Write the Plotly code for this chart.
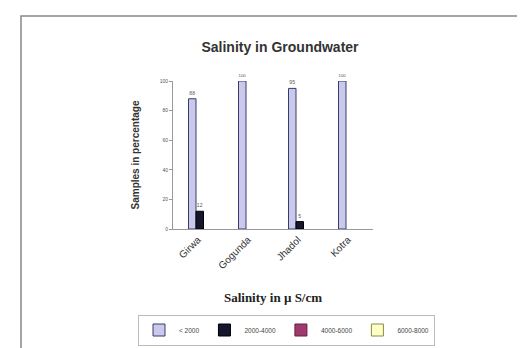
import plotly.graph_objects as go

categories = ["Girwa", "Gogunda", "Jhadol", "Kotra"]
series_names = ["< 2000", "2000-4000", "4000-6000", "6000-8000"]
s_lt2000 = [88, 100, 95, 100]
s_2000_4000 = [12, None, 5, None]
s_4000_6000 = [None, None, None, None]
s_6000_8000 = [None, None, None, None]
y_ticks = [0, 20, 40, 60, 80, 100]

fills = ["#c9c9ec", "#15152e", "#a03a6e", "#ffffc8"]
lines = ["#3a3a6e", "#000000", "#602040", "#8a8a40"]
offsets = [-0.19, -0.04, 0.11, 0.26]
all_series = [s_lt2000, s_2000_4000, s_4000_6000, s_6000_8000]

fig = go.Figure()
for name, vals, fc, lc, off in zip(series_names, all_series, fills, lines, offsets):
    fig.add_trace(go.Bar(
        x=categories, y=vals, name=name,
        marker=dict(color=fc, line=dict(color=lc, width=1)),
        width=0.15, offset=off,
        text=[("" if v is None else str(v)) for v in vals],
        textposition="outside", cliponaxis=False,
        textfont=dict(size=5, color="#555555", family="Arial"),
    ))

fig.update_layout(
    width=525, height=348,
    margin=dict(l=165, r=160, t=73, b=127, autoexpand=False),
    paper_bgcolor="white", plot_bgcolor="white",
    barmode="overlay",
    showlegend=True,
    title=dict(text="<b>Salinity in Groundwater</b>", x=272/525, xanchor="center",
               y=1 - 39/348, yanchor="middle",
               font=dict(family="Arial", size=14, color="#333333")),
    legend=dict(orientation="h", x=(130 - 165) / 200, xanchor="left",
                y=(221 - 322) / 148, yanchor="middle",
                font=dict(family="Arial", size=6.5, color="#444444"),
                bordercolor="#bbbbbb", borderwidth=1, bgcolor="white",
                itemwidth=30, tracegroupgap=0, traceorder="normal"),
    xaxis=dict(
        range=[-0.5, 3.5], showgrid=False, showline=True, linecolor="#999999",
        ticks="", tickangle=-45, tickfont=dict(family="Arial", size=10, color="#333333"),
        title=dict(text="<b>Salinity in µ S/cm</b>", standoff=22,
                   font=dict(family="Times New Roman, Liberation Serif", size=13, color="#222222")),
    ),
    yaxis=dict(
        range=[0, 100], tickvals=y_ticks, showgrid=False, showline=True, linecolor="#999999",
        ticks="outside", ticklen=3, tickcolor="#999999",
        tickfont=dict(family="Arial", size=5, color="#555555"),
        zeroline=False,
        title=dict(text="<b>Samples in percentage</b>", standoff=18,
                   font=dict(family="Arial", size=10, color="#333333")),
    ),
    shapes=[dict(type="rect", xref="paper", yref="paper",
                 x0=(13 - 165) / 200, x1=(512 - 165) / 200,
                 y0=(221 - 345) / 148, y1=(221 - 8) / 148,
                 line=dict(color="#888888", width=1.5), layer="below")],
)

fig.write_html("out.html")
